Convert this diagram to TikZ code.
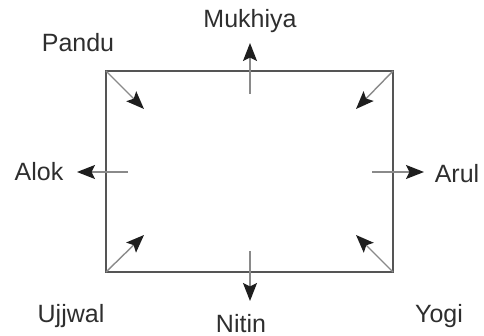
\documentclass[tikz,border=0pt]{standalone}
\usepackage{fontspec}
\setmainfont{Liberation Sans}
\usetikzlibrary{arrows.meta}
\definecolor{txt}{HTML}{2E2E2E}
\definecolor{frame}{HTML}{555555}
\definecolor{shaft}{HTML}{8A8A8A}
\definecolor{head}{HTML}{1E1E1E}
\tikzset{
  lbl/.style={font=\fontsize{25}{25}\selectfont, text=txt, inner sep=0pt, anchor=base},
  frameline/.style={draw=frame, line width=1.8pt},
  pointer/.style={draw=shaft, line width=1.4pt,
    -{Stealth[length=18pt,width=14pt,inset=3.5pt,color=head]}}
}
\begin{document}
\begin{tikzpicture}[x=1pt,y=-1pt]
\useasboundingbox (0,0) rectangle (484,336);
% frame corners
\coordinate (tl) at (106,71);
\coordinate (tr) at (393,71);
\coordinate (br) at (393,272);
\coordinate (bl) at (106,272);
\draw[frameline] (tl) -- (tr) -- (br) -- (bl) -- cycle;
% side arrows
\coordinate (mS) at (250,94);  \coordinate (mE) at (250,43);
\coordinate (nS) at (250,251); \coordinate (nE) at (250,301);
\coordinate (aS) at (128,172); \coordinate (aE) at (77,172);
\coordinate (rS) at (372,172); \coordinate (rE) at (424,172);
\draw[pointer] (mS) -- (mE);
\draw[pointer] (nS) -- (nE);
\draw[pointer] (aS) -- (aE);
\draw[pointer] (rS) -- (rE);
% corner arrows
\coordinate (tlE) at (144,109);
\coordinate (trE) at (356,109);
\coordinate (blE) at (144,235);
\coordinate (brE) at (356,235);
\draw[pointer] (tl) -- (tlE);
\draw[pointer] (tr) -- (trE);
\draw[pointer] (bl) -- (blE);
\draw[pointer] (br) -- (brE);
% labels
\node[lbl] (mukhiya) at (250,28) {Mukhiya};
\node[lbl] (pandu) at (78,52) {Pandu};
\node[lbl] (alok) at (39,181) {Alok};
\node[lbl] (arul) at (457,183) {Arul};
\node[lbl] (ujjwal) at (71,322) {Ujjwal};
\node[lbl] (nitin) at (241,332) {Nitin};
\node[lbl] (yogi) at (439,322) {Yogi};
\end{tikzpicture}
\end{document}
